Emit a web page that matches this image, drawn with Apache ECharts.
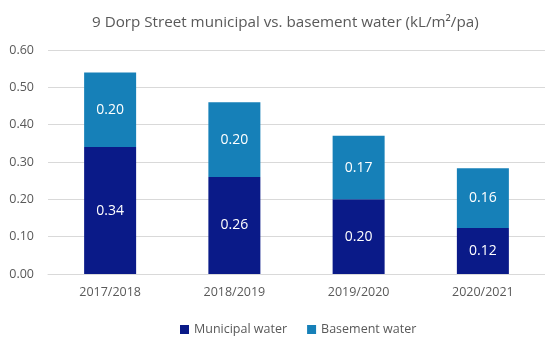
<!DOCTYPE html>
<html>
<head>
<meta charset="utf-8">
<script src="https://cdn.jsdelivr.net/npm/echarts@6/dist/echarts.min.js"></script>
<style>
  html, body { margin: 0; padding: 0; background: #fff; }
  #chart { width: 545px; height: 350px; }
</style>
</head>
<body>
<div id="chart"></div>
<script>
const years = ['2017/2018', '2018/2019', '2019/2020', '2020/2021']
const municipal = [0.34, 0.26, 0.20, 0.123]
const basement = [0.20, 0.20, 0.17, 0.16]

const chart = echarts.init(document.getElementById('chart'))

const labelStyle = {
  show: true,
  color: '#fff',
  fontSize: 14,
  fontFamily: 'Open Sans',
  formatter: p => p.value.toFixed(2)
}

chart.setOption({
  textStyle: { fontFamily: 'Open Sans' },
  title: {
    text: '9 Dorp Street municipal vs. basement water (kL/m²/pa)',
    left: 87,
    top: 10,
    textStyle: { color: '#595959', fontSize: 15.2, fontWeight: 'normal' }
  },
  legend: {
    top: 318,
    left: 175,
    itemWidth: 9,
    itemHeight: 9,
    itemGap: 20,
    icon: 'rect',
    textStyle: { color: '#595959', fontSize: 12.5 },
    data: ['Municipal water', 'Basement water']
  },
  grid: { left: 48, width: 520, top: 50, height: 224 },
  xAxis: {
    type: 'category',
    data: years,
    axisLine: { lineStyle: { color: '#d9d9d9' } },
    axisTick: { show: false },
    axisLabel: { color: '#595959', fontSize: 12.5, margin: 12 }
  },
  yAxis: {
    type: 'value',
    min: 0,
    max: 0.6,
    interval: 0.1,
    axisLine: { show: false },
    axisTick: { show: false },
    splitLine: { lineStyle: { color: '#d9d9d9' } },
    axisLabel: {
      color: '#595959',
      fontSize: 12.5,
      margin: 14,
      formatter: v => v.toFixed(2)
    }
  },
  series: [
    {
      name: 'Municipal water',
      type: 'bar',
      stack: 'water',
      barWidth: 52,
      itemStyle: { color: '#0a1a88' },
      label: labelStyle,
      data: municipal
    },
    {
      name: 'Basement water',
      type: 'bar',
      stack: 'water',
      barWidth: 52,
      itemStyle: { color: '#1680b8' },
      label: labelStyle,
      data: basement
    }
  ]
})
</script>
</body>
</html>
